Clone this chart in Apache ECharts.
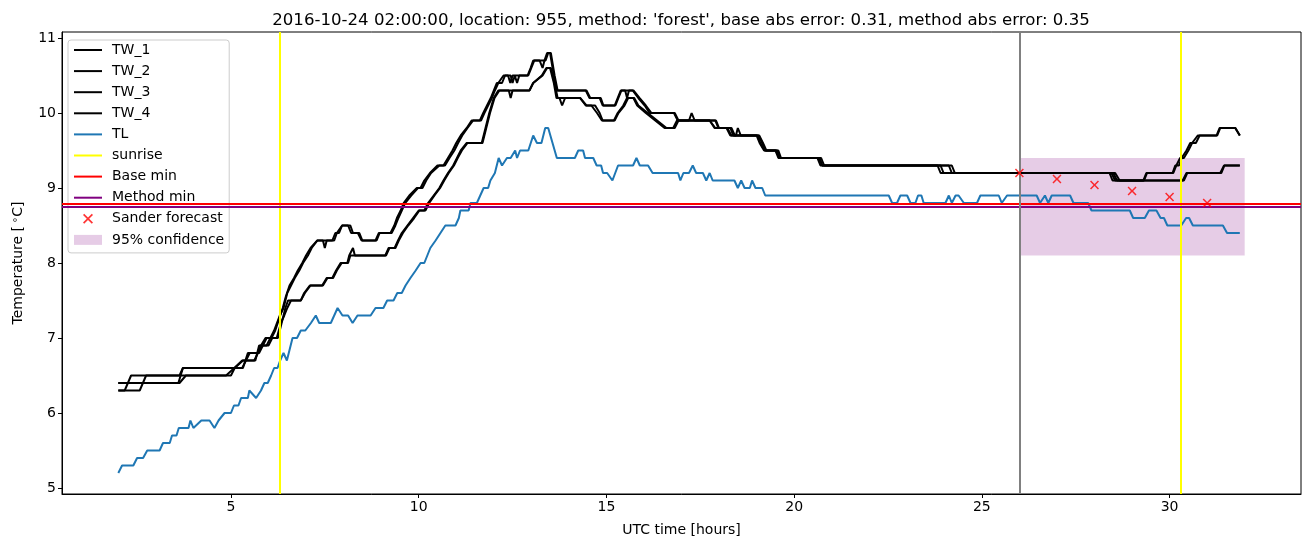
<!DOCTYPE html>
<html>
<head>
<meta charset="utf-8">
<script src="https://cdn.jsdelivr.net/npm/echarts@6/dist/echarts.min.js"></script>
<style>
html,body{margin:0;padding:0;background:#fff;}
#chart{width:1311px;height:547px;}
</style>
</head>
<body>
<div id="chart"></div>
<script>
// ---- data (time in UTC hours, temperature in °C) ----
const tw1 = [[2.0,6.4],[3.6,6.4],[3.72,6.6],[5.3,6.6],[5.4,6.7],[5.5,6.8],[5.72,6.8],[5.8,6.9],[5.92,7.0],[6.08,7.0],[6.18,7.1],[6.28,7.25],[6.38,7.4],[6.46,7.55],[6.56,7.7],[6.68,7.8],[6.78,7.9],[6.9,8.0],[7.0,8.1],[7.12,8.2],[7.3,8.3],[7.45,8.3],[7.5,8.2],[7.55,8.3],[7.7,8.3],[7.78,8.4],[7.88,8.4],[7.96,8.5],[8.12,8.5],[8.2,8.4],[8.38,8.4],[8.48,8.3],[8.85,8.3],[8.94,8.4],[9.25,8.4],[9.35,8.5],[9.42,8.6],[9.52,8.7],[9.6,8.8],[9.75,8.9],[9.95,9.0],[10.05,9.0],[10.15,9.1],[10.3,9.2],[10.5,9.3],[10.66,9.3],[10.78,9.4],[10.9,9.5],[11.0,9.6],[11.12,9.7],[11.28,9.8],[11.41,9.9],[11.63,9.9],[11.72,10.0],[11.82,10.1],[11.92,10.2],[12.0,10.3],[12.08,10.4],[12.22,10.4],[12.3,10.5],[12.45,10.5],[12.5,10.4],[12.56,10.5],[12.62,10.4],[12.68,10.5],[12.9,10.5],[12.98,10.6],[13.05,10.7],[13.22,10.7],[13.3,10.6],[13.35,10.7],[13.42,10.8],[13.5,10.8],[13.6,10.5],[13.68,10.3],[14.45,10.3],[14.55,10.2],[14.82,10.2],[14.9,10.1],[15.22,10.1],[15.3,10.2],[15.38,10.3],[15.7,10.3],[15.85,10.2],[16.02,10.1],[16.15,10.0],[16.8,10.0],[16.9,9.9],[17.9,9.9],[17.98,9.8],[18.3,9.8],[18.38,9.7],[19.05,9.7],[19.15,9.6],[19.24,9.5],[19.55,9.5],[19.62,9.4],[20.65,9.4],[20.75,9.3],[23.82,9.3],[23.9,9.2],[28.4,9.2],[28.48,9.1],[29.3,9.1],[29.38,9.2],[30.08,9.2],[30.15,9.3],[30.25,9.3],[30.32,9.4],[30.45,9.5],[30.55,9.6],[30.7,9.6],[30.8,9.7],[31.25,9.7],[31.33,9.8],[31.75,9.8],[31.87,9.7]];
const tw2 = [[2.0,6.3],[2.17,6.3],[2.34,6.5],[3.63,6.5],[3.72,6.6],[5.32,6.6],[5.45,6.8],[5.75,6.8],[5.85,6.9],[5.95,7.0],[6.05,7.0],[6.15,7.1],[6.3,7.3],[6.4,7.4],[6.5,7.6],[6.6,7.7],[6.7,7.8],[6.82,7.9],[6.92,8.0],[7.05,8.1],[7.15,8.2],[7.3,8.3],[7.75,8.3],[7.82,8.4],[7.96,8.5],[8.18,8.5],[8.25,8.4],[8.42,8.4],[8.5,8.3],[8.88,8.3],[8.96,8.4],[9.28,8.4],[9.38,8.5],[9.46,8.6],[9.55,8.7],[9.64,8.8],[9.8,8.9],[9.98,9.0],[10.1,9.0],[10.2,9.1],[10.33,9.2],[10.55,9.3],[10.7,9.3],[10.82,9.4],[10.95,9.5],[11.05,9.6],[11.16,9.7],[11.3,9.8],[11.45,9.9],[11.66,9.9],[11.75,10.0],[11.85,10.1],[11.95,10.2],[12.03,10.3],[12.12,10.4],[12.26,10.5],[12.38,10.5],[12.44,10.4],[12.5,10.5],[12.92,10.5],[13.0,10.6],[13.08,10.7],[13.38,10.7],[13.45,10.8],[13.52,10.8],[13.62,10.5],[13.7,10.3],[14.47,10.3],[14.57,10.2],[14.85,10.2],[14.92,10.1],[15.24,10.1],[15.4,10.3],[15.5,10.3],[15.55,10.2],[15.6,10.3],[15.72,10.3],[15.88,10.2],[16.05,10.1],[16.2,10.0],[16.82,10.0],[16.92,9.9],[17.92,9.9],[18.0,9.8],[18.33,9.8],[18.42,9.7],[19.07,9.7],[19.17,9.6],[19.26,9.5],[19.58,9.5],[19.65,9.4],[20.72,9.4],[20.8,9.3],[23.9,9.3],[23.98,9.2],[28.45,9.2],[28.55,9.1],[29.32,9.1],[29.4,9.2],[30.1,9.2],[30.18,9.3],[30.28,9.4],[30.38,9.4],[30.5,9.5],[30.6,9.6],[30.75,9.7],[31.27,9.7],[31.35,9.8],[31.75,9.8],[31.87,9.7]];
const tw3 = [[2.0,6.3],[2.57,6.3],[2.74,6.5],[4.87,6.5],[5.09,6.6],[5.3,6.7],[5.65,6.7],[5.75,6.9],[5.95,6.9],[6.05,7.0],[6.22,7.0],[6.33,7.2],[6.42,7.3],[6.5,7.4],[6.6,7.5],[6.86,7.5],[6.95,7.6],[7.1,7.7],[7.43,7.7],[7.55,7.8],[7.7,7.8],[7.8,7.9],[7.92,8.0],[8.1,8.0],[8.15,8.1],[8.2,8.1],[8.25,8.2],[8.3,8.1],[9.11,8.1],[9.2,8.2],[9.36,8.2],[9.45,8.3],[9.55,8.4],[9.7,8.5],[9.85,8.6],[10.0,8.7],[10.15,8.7],[10.25,8.8],[10.4,8.9],[10.55,9.0],[10.66,9.1],[10.78,9.2],[10.92,9.3],[11.02,9.4],[11.12,9.5],[11.28,9.6],[11.68,9.6],[11.78,9.8],[11.88,10.0],[12.0,10.2],[12.12,10.3],[12.4,10.3],[12.45,10.2],[12.5,10.3],[12.95,10.3],[13.05,10.4],[13.28,10.5],[13.4,10.6],[13.5,10.6],[13.6,10.4],[13.67,10.2],[13.75,10.2],[13.82,10.1],[13.9,10.2],[14.3,10.2],[14.45,10.1],[14.6,10.1],[14.75,10.0],[14.88,9.9],[15.2,9.9],[15.3,10.0],[15.45,10.1],[15.55,10.2],[15.72,10.2],[15.82,10.1],[16.05,10.0],[16.3,9.9],[16.55,9.8],[16.78,9.8],[16.88,9.9],[17.2,9.9],[17.27,10.0],[17.35,9.9],[17.75,9.9],[17.88,9.8],[18.2,9.8],[18.3,9.7],[18.45,9.7],[18.5,9.8],[18.58,9.7],[19.0,9.7],[19.08,9.6],[19.2,9.5],[19.5,9.5],[19.58,9.4],[20.62,9.4],[20.7,9.3],[24.12,9.3],[24.2,9.2],[28.5,9.2],[28.6,9.1],[30.35,9.1],[30.45,9.2],[31.35,9.2],[31.45,9.3],[31.87,9.3]];
const tw4 = [[2.0,6.4],[3.63,6.4],[3.8,6.5],[5.0,6.5],[5.1,6.6],[5.32,6.7],[5.62,6.7],[5.72,6.8],[5.8,6.9],[6.0,6.9],[6.1,7.0],[6.25,7.0],[6.35,7.2],[6.45,7.4],[6.52,7.5],[6.86,7.5],[6.97,7.6],[7.12,7.7],[7.45,7.7],[7.57,7.8],[7.72,7.8],[7.82,7.9],[7.95,8.0],[8.12,8.0],[8.18,8.1],[9.13,8.1],[9.22,8.2],[9.38,8.2],[9.47,8.3],[9.58,8.4],[9.72,8.5],[9.88,8.6],[10.02,8.7],[10.18,8.7],[10.28,8.8],[10.42,8.9],[10.57,9.0],[10.68,9.1],[10.8,9.2],[10.94,9.3],[11.04,9.4],[11.15,9.5],[11.3,9.6],[11.7,9.6],[11.8,9.8],[11.9,10.0],[12.02,10.2],[12.15,10.3],[12.95,10.3],[13.05,10.4],[13.3,10.5],[13.42,10.6],[13.52,10.6],[13.62,10.4],[13.7,10.2],[14.3,10.2],[14.47,10.1],[14.7,10.1],[14.82,10.0],[14.9,9.9],[15.22,9.9],[15.32,10.0],[15.48,10.1],[15.58,10.2],[15.74,10.2],[15.85,10.1],[16.1,10.0],[16.35,9.9],[16.6,9.8],[16.82,9.8],[16.92,9.9],[17.75,9.9],[17.9,9.8],[18.22,9.8],[18.33,9.7],[19.02,9.7],[19.1,9.6],[19.22,9.5],[19.52,9.5],[19.6,9.4],[20.68,9.4],[20.75,9.3],[24.2,9.3],[24.28,9.2],[28.55,9.2],[28.67,9.1],[30.38,9.1],[30.47,9.2],[31.38,9.2],[31.46,9.3],[31.87,9.3]];
const tl = [[2.0,5.2],[2.1,5.3],[2.4,5.3],[2.5,5.4],[2.66,5.4],[2.77,5.5],[3.1,5.5],[3.19,5.6],[3.37,5.6],[3.43,5.7],[3.55,5.7],[3.61,5.8],[3.87,5.8],[3.92,5.9],[4.0,5.8],[4.21,5.9],[4.43,5.9],[4.56,5.8],[4.67,5.9],[4.83,6.0],[5.0,6.0],[5.08,6.1],[5.2,6.1],[5.27,6.2],[5.45,6.2],[5.49,6.3],[5.67,6.2],[5.8,6.3],[5.89,6.4],[5.98,6.4],[6.07,6.5],[6.15,6.6],[6.24,6.6],[6.31,6.7],[6.4,6.8],[6.49,6.7],[6.64,7.0],[6.76,7.0],[6.86,7.1],[6.98,7.1],[7.13,7.2],[7.26,7.3],[7.35,7.2],[7.66,7.2],[7.84,7.4],[7.97,7.3],[8.12,7.3],[8.24,7.2],[8.37,7.3],[8.72,7.3],[8.85,7.4],[9.06,7.4],[9.16,7.5],[9.33,7.5],[9.43,7.6],[9.55,7.6],[9.65,7.7],[9.78,7.8],[9.92,7.9],[10.05,8.0],[10.15,8.0],[10.23,8.1],[10.31,8.2],[10.45,8.3],[10.58,8.4],[10.71,8.5],[10.98,8.5],[11.07,8.6],[11.11,8.7],[11.33,8.7],[11.38,8.8],[11.55,8.8],[11.64,8.9],[11.73,9.0],[11.85,9.0],[11.91,9.1],[12.03,9.2],[12.13,9.4],[12.22,9.3],[12.35,9.4],[12.45,9.4],[12.57,9.5],[12.62,9.4],[12.7,9.5],[12.92,9.5],[13.05,9.7],[13.15,9.6],[13.27,9.6],[13.37,9.8],[13.45,9.8],[13.68,9.4],[14.16,9.4],[14.25,9.5],[14.38,9.5],[14.43,9.4],[14.65,9.4],[14.74,9.3],[14.86,9.3],[14.91,9.2],[15.02,9.2],[15.16,9.1],[15.31,9.3],[15.71,9.3],[15.8,9.4],[15.89,9.3],[16.11,9.3],[16.23,9.2],[16.91,9.2],[16.97,9.1],[17.05,9.2],[17.2,9.2],[17.3,9.3],[17.39,9.2],[17.57,9.2],[17.66,9.1],[17.75,9.2],[17.83,9.1],[18.41,9.1],[18.5,9.0],[18.59,9.1],[18.68,9.0],[18.82,9.0],[18.88,9.1],[18.97,9.0],[19.15,9.0],[19.23,8.9],[22.52,8.9],[22.61,8.8],[22.74,8.8],[22.83,8.9],[23.01,8.9],[23.1,8.8],[23.23,8.8],[23.3,8.9],[23.39,8.9],[23.45,8.8],[24.03,8.8],[24.12,8.9],[24.2,8.8],[24.3,8.9],[24.38,8.9],[24.52,8.8],[24.87,8.8],[24.96,8.9],[25.45,8.9],[25.53,8.8],[25.67,8.9],[26.46,8.9],[26.55,8.8],[26.68,8.9],[26.77,8.8],[26.86,8.9],[27.35,8.9],[27.44,8.8],[27.83,8.8],[27.92,8.7],[28.94,8.7],[29.03,8.6],[29.34,8.6],[29.45,8.7],[29.65,8.7],[29.76,8.6],[29.85,8.6],[29.94,8.5],[30.31,8.5],[30.44,8.6],[30.52,8.6],[30.62,8.5],[31.42,8.5],[31.53,8.4],[31.87,8.4]];
const sunriseTimes = [6.3, 30.3];
const forecastStart = 26;
const baseMin = 8.79;
const methodMin = 8.75;
const sanderTimes = [26, 27, 28, 29, 30, 31];
const sanderValues = [9.20, 9.12, 9.04, 8.96, 8.88, 8.80];
const bandTimes = [26, 32];
const bandLow = 8.1;
const bandHigh = 9.4;
const xTicks = [5, 10, 15, 20, 25, 30];
const yTicks = [5, 6, 7, 8, 9, 10, 11];
const xRange = [0.5, 33.5];
const yRange = [4.92, 11.08];
const titleText = "2016-10-24 02:00:00, location: 955, method: 'forest', base abs error: 0.31, method abs error: 0.35";

// ---- chart ----
const FONT = 'DejaVu Sans';
const chart = echarts.init(document.getElementById('chart'), null, {renderer: 'canvas'});
const xMark = 'path://M0,1.2 L1.2,0 L5,3.8 L8.8,0 L10,1.2 L6.2,5 L10,8.8 L8.8,10 L5,6.2 L1.2,10 L0,8.8 L3.8,5 Z';

function twSeries(name, data) {
  return {name, type: 'line', data, showSymbol: false, symbol: 'none',
    lineStyle: {color: '#000', width: 2}, itemStyle: {color: '#000'}, z: 2, animation: false};
}
const hideSym = {opacity: 0};
const legLine = {width: 2};

const option = {
  animation: false,
  backgroundColor: '#fff',
  textStyle: {fontFamily: FONT},
  title: {text: titleText, left: 676, top: 7, textAlign: 'center',
    textStyle: {fontFamily: FONT, fontSize: 16.6, fontWeight: 'normal', color: '#000'}},
  grid: {left: 62, right: 10, top: 32, bottom: 53, show: true, borderColor: '#000', borderWidth: 1, backgroundColor: 'transparent'},
  legend: {
    orient: 'vertical', left: 68, top: 40,
    itemWidth: 28, itemHeight: 10, itemGap: 7.1,
    padding: [3, 5, 6, 5],
    backgroundColor: 'rgba(255,255,255,0.8)', borderColor: '#cccccc', borderWidth: 1, borderRadius: 3,
    textStyle: {fontFamily: FONT, fontSize: 14, color: '#000', lineHeight: 14, padding: [0, 0, 0, 5]},
    data: [
      {name: 'TW_1', itemStyle: hideSym, lineStyle: legLine}, {name: 'TW_2', itemStyle: hideSym, lineStyle: legLine},
      {name: 'TW_3', itemStyle: hideSym, lineStyle: legLine}, {name: 'TW_4', itemStyle: hideSym, lineStyle: legLine},
      {name: 'TL', itemStyle: hideSym, lineStyle: legLine},
      {name: 'sunrise', itemStyle: hideSym, lineStyle: legLine}, {name: 'Base min', itemStyle: hideSym, lineStyle: legLine},
      {name: 'Method min', itemStyle: hideSym, lineStyle: legLine},
      {name: 'Sander forecast', icon: xMark},
      {name: '95% confidence', icon: 'rect'}
    ]
  },
  xAxis: {
    type: 'value', min: xRange[0], max: xRange[1],
    name: 'UTC time [hours]', nameLocation: 'middle', nameGap: 29,
    nameTextStyle: {fontFamily: FONT, fontSize: 14, color: '#000'},
    axisLine: {show: true, lineStyle: {color: '#000', width: 1}},
    axisTick: {show: true, length: 4, lineStyle: {color: '#000'}, customValues: xTicks},
    axisLabel: {color: '#000', fontFamily: FONT, fontSize: 14, margin: 6, customValues: xTicks},
    splitLine: {show: false}
  },
  yAxis: {
    type: 'value', min: yRange[0], max: yRange[1],
    name: 'Temperature [{sup|∘}C]', nameLocation: 'middle', nameGap: 36,
    nameTextStyle: {fontFamily: FONT, fontSize: 14, color: '#000',
      rich: {sup: {fontFamily: FONT, fontSize: 10, color: '#000', verticalAlign: 'top', padding: [0, 0, 6, 3]}}},
    axisLine: {show: true, lineStyle: {color: '#000', width: 1}},
    axisTick: {show: true, length: 4, lineStyle: {color: '#000'}, customValues: yTicks},
    axisLabel: {color: '#000', fontFamily: FONT, fontSize: 14, margin: 6, customValues: yTicks},
    splitLine: {show: false}
  },
  series: [
    twSeries('TW_1', tw1), twSeries('TW_2', tw2), twSeries('TW_3', tw3), twSeries('TW_4', tw4),
    {name: 'TL', type: 'line', data: tl, showSymbol: false, symbol: 'none',
      lineStyle: {color: '#1f77b4', width: 2}, itemStyle: {color: '#1f77b4'}, z: 3},
    {name: 'sunrise', type: 'line', data: [], symbol: 'none',
      lineStyle: {color: '#ffff00', width: 2}, itemStyle: {color: '#ffff00'}, z: 4,
      markLine: {silent: true, symbol: 'none', label: {show: false},
        lineStyle: {color: '#ffff00', width: 2, type: 'solid'},
        data: sunriseTimes.map(t => ({xAxis: t}))}},
    {name: 'Base min', type: 'line', data: [], symbol: 'none',
      lineStyle: {color: '#ff0000', width: 2}, itemStyle: {color: '#ff0000'}, z: 4,
      markLine: {silent: true, symbol: 'none', label: {show: false},
        lineStyle: {color: '#ff0000', width: 2, type: 'solid'}, data: [{yAxis: baseMin}]}},
    {name: 'Method min', type: 'line', data: [], symbol: 'none',
      lineStyle: {color: '#800080', width: 2}, itemStyle: {color: '#800080'}, z: 4,
      markLine: {silent: true, symbol: 'none', label: {show: false},
        lineStyle: {color: '#800080', width: 2, type: 'solid'}, data: [{yAxis: methodMin}]}},
    {name: 'forecast start', type: 'line', data: [], symbol: 'none', z: 4,
      markLine: {silent: true, symbol: 'none', label: {show: false},
        lineStyle: {color: '#808080', width: 2, type: 'solid'}, data: [{xAxis: forecastStart}]}},
    {name: 'Sander forecast', type: 'scatter', symbol: xMark, symbolSize: 9,
      data: sanderTimes.map((t, i) => [t, sanderValues[i]]),
      itemStyle: {color: '#ff0000'}, z: 5},
    {name: '95% confidence', type: 'line', data: [], symbol: 'none',
      itemStyle: {color: 'rgba(128,0,128,0.2)'}, lineStyle: {color: 'rgba(128,0,128,0.2)'}, z: 6,
      markArea: {silent: true, itemStyle: {color: 'rgba(128,0,128,0.2)'},
        data: [[{xAxis: bandTimes[0], yAxis: bandLow}, {xAxis: bandTimes[1], yAxis: bandHigh}]]}}
  ]
};
chart.setOption(option);
</script>
</body>
</html>
